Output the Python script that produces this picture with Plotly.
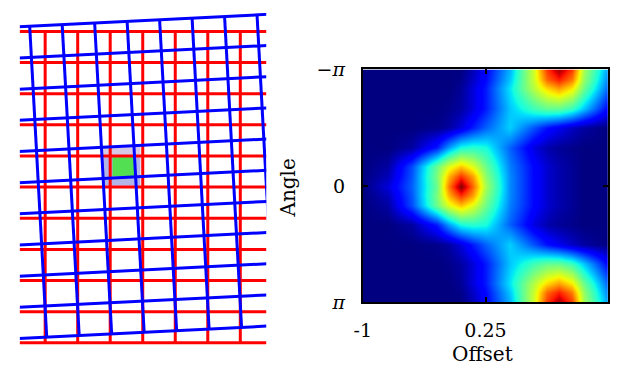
import math
import plotly.graph_objects as go

W, H = 622, 388
PI = math.pi

# ---------------- Left panel data (grid units: 1 = one cell) ----------------
red_vertical_x = [1, 2, 3, 4, 5, 6, 7]
red_horizontal_y = [0, 1, 2, 3, 4, 5, 6, 7, 8, 9, 10]
red_span_x = [0, 8]          # horizontal red lines run past the clip box
red_span_y = [0, 10]

blue_angle_deg = 3.0
blue_origin = [0.524, -0.167]
blue_cols = [0, 1, 2, 3, 4, 5, 6, 7]
blue_rows = [0, 1, 2, 3, 4, 5, 6, 7, 8, 9, 10]
blue_span_s = [-1.0, 8.5]
blue_span_t = [0, 10]

lavender_top = [2.78, 3.93, 3.69, 3.99]     # x0, x1, y0, y1
lavender_low = [2.78, 3.93, 3.99, 4.96]
green_box = [3.07, 3.74, 4.02, 4.65]

# ---------------- Right panel data (heatmap) ----------------
offsets = [-1.0, -0.75, -0.5, -0.25, -0.125, 0.0, 0.125, 0.25, 0.5, 0.75, 0.875, 1.0, 1.125, 1.25, 1.5]
angles = [-PI, -11 * PI / 12, -5 * PI / 6, -2 * PI / 3, -PI / 2, -PI / 3, -PI / 6, -PI / 12, 0.0,
          PI / 12, PI / 6, PI / 3, PI / 2, 2 * PI / 3, 5 * PI / 6, 11 * PI / 12, PI]
z = [
    [0, 0, 0, 0, 0, 0.00, 0.05, 0.12, 0.30, 0.62, 0.85, 0.97, 0.85, 0.55, 0.28],
    [0, 0, 0, 0, 0, 0.01, 0.06, 0.13, 0.32, 0.61, 0.80, 0.88, 0.78, 0.53, 0.25],
    [0, 0, 0, 0, 0, 0.02, 0.08, 0.15, 0.35, 0.58, 0.68, 0.74, 0.66, 0.48, 0.22],
    [0, 0, 0, 0, 0.01, 0.03, 0.08, 0.15, 0.32, 0.43, 0.47, 0.47, 0.42, 0.32, 0.12],
    [0, 0, 0, 0.01, 0.03, 0.08, 0.15, 0.22, 0.33, 0.20, 0.14, 0.10, 0.06, 0.03, 0.0],
    [0, 0, 0.03, 0.15, 0.28, 0.38, 0.40, 0.38, 0.22, 0.08, 0.04, 0.02, 0.01, 0, 0],
    [0, 0.03, 0.20, 0.48, 0.62, 0.70, 0.62, 0.48, 0.25, 0.12, 0.07, 0.04, 0.02, 0, 0],
    [0, 0.05, 0.21, 0.50, 0.72, 0.86, 0.74, 0.52, 0.26, 0.12, 0.07, 0.04, 0.02, 0, 0],
    [0, 0.08, 0.22, 0.48, 0.78, 1.00, 0.80, 0.55, 0.26, 0.12, 0.07, 0.04, 0.02, 0, 0],
    [0, 0.05, 0.21, 0.50, 0.72, 0.86, 0.74, 0.52, 0.26, 0.12, 0.07, 0.04, 0.02, 0, 0],
    [0, 0.03, 0.20, 0.48, 0.62, 0.70, 0.62, 0.48, 0.25, 0.12, 0.07, 0.04, 0.02, 0, 0],
    [0, 0, 0.03, 0.15, 0.28, 0.38, 0.40, 0.38, 0.22, 0.08, 0.04, 0.02, 0.01, 0, 0],
    [0, 0, 0, 0.01, 0.03, 0.08, 0.15, 0.22, 0.33, 0.20, 0.14, 0.10, 0.06, 0.03, 0.0],
    [0, 0, 0, 0, 0.01, 0.03, 0.08, 0.15, 0.32, 0.43, 0.47, 0.47, 0.42, 0.32, 0.12],
    [0, 0, 0, 0, 0, 0.02, 0.08, 0.15, 0.35, 0.58, 0.68, 0.74, 0.66, 0.48, 0.22],
    [0, 0, 0, 0, 0, 0.01, 0.06, 0.13, 0.32, 0.61, 0.80, 0.88, 0.78, 0.53, 0.25],
    [0, 0, 0, 0, 0, 0.00, 0.05, 0.12, 0.30, 0.62, 0.85, 0.97, 0.85, 0.55, 0.28],
]
x_tickvals = [-1, 0.25, 1.5]
x_ticktext = ["-1", "0.25", "1.5"]
y_tickvals = [-PI, 0, PI]
y_ticktext = ["\u2212<i>\u03c0</i>", "0", "<i>\u03c0</i>"]

# matplotlib-like jet
jet = [
    [0.0, "rgb(0,0,128)"], [0.11, "rgb(0,0,255)"], [0.125, "rgb(0,0,255)"],
    [0.34, "rgb(0,219,255)"], [0.35, "rgb(0,230,247)"], [0.375, "rgb(21,255,226)"],
    [0.64, "rgb(239,255,8)"], [0.65, "rgb(247,245,0)"], [0.66, "rgb(255,236,0)"],
    [0.89, "rgb(255,19,0)"], [0.91, "rgb(232,0,0)"], [1.0, "rgb(128,0,0)"],
]

FONT = "DejaVu Serif"


def red_lines():
    xs, ys = [], []
    for y in red_horizontal_y:
        xs += [red_span_x[0], red_span_x[1], None]
        ys += [y, y, None]
    for x in red_vertical_x:
        xs += [x, x, None]
        ys += [red_span_y[0], red_span_y[1], None]
    return xs, ys


def blue_lines():
    a = math.radians(blue_angle_deg)
    ux, uy = math.cos(a), -math.sin(a)
    vx, vy = math.sin(a), math.cos(a)
    ox, oy = blue_origin
    xs, ys = [], []
    for j in blue_rows:
        for s in blue_span_s:
            xs.append(ox + j * vx + s * ux)
            ys.append(oy + j * vy + s * uy)
        xs.append(None)
        ys.append(None)
    for i in blue_cols:
        for t in blue_span_t:
            xs.append(ox + i * ux + t * vx)
            ys.append(oy + i * uy + t * vy)
        xs.append(None)
        ys.append(None)
    return xs, ys


fig = go.Figure()

rx, ry = red_lines()
fig.add_trace(go.Scatter(x=rx, y=ry, mode="lines", line=dict(color="#ff0000", width=3),
                         hoverinfo="skip", showlegend=False, xaxis="x", yaxis="y"))
bx, by = blue_lines()
fig.add_trace(go.Scatter(x=bx, y=by, mode="lines", line=dict(color="#0000ff", width=3),
                         hoverinfo="skip", showlegend=False, xaxis="x", yaxis="y"))

fig.add_trace(go.Heatmap(x=offsets, y=angles, z=z, colorscale=jet, zmin=0, zmax=1,
                         zsmooth="best", showscale=False, xaxis="x2", yaxis="y2"))

shapes = []
for box, col in [(lavender_top, "#d6c9e6"), (lavender_low, "#b3b5e6"), (green_box, "#52e052")]:
    shapes.append(dict(type="rect", xref="x", yref="y", x0=box[0], x1=box[1], y0=box[2], y1=box[3],
                       fillcolor=col, line=dict(width=0), layer="below"))

# pixel geometry
lx0, lx1 = 11, 261
ly0, ly1 = 2, 356
px_per_unit = 33.0
red_x0_px = 3.7
red_y0_px = 21.7

hx0, hx1 = 359, 608
hy0, hy1 = 62, 309

fig.update_layout(
    width=W, height=H, margin=dict(l=0, r=0, t=0, b=0),
    paper_bgcolor="white", plot_bgcolor="white",
    font=dict(family=FONT, color="black", size=19),
    shapes=shapes,
    xaxis=dict(domain=[lx0 / W, lx1 / W],
               range=[(lx0 - red_x0_px) / px_per_unit, (lx1 - red_x0_px) / px_per_unit],
               visible=False, showgrid=False, zeroline=False),
    yaxis=dict(domain=[1 - ly1 / H, 1 - ly0 / H],
               range=[(ly1 - red_y0_px) / px_per_unit, (ly0 - red_y0_px) / px_per_unit],
               visible=False, showgrid=False, zeroline=False),
    xaxis2=dict(domain=[hx0 / W, hx1 / W], range=[-1, 1.5], anchor="y2",
                tickvals=x_tickvals, ticktext=x_ticktext,
                ticks="inside", ticklen=5, tickwidth=1.5, tickcolor="black",
                showline=True, linewidth=2, linecolor="black", mirror="ticks",
                showgrid=False, zeroline=False, ticklabelstandoff=10,
                tickfont=dict(family=FONT, size=19, color="black")),
    yaxis2=dict(domain=[1 - hy1 / H, 1 - hy0 / H], range=[PI, -PI], anchor="x2",
                tickvals=y_tickvals, ticktext=y_ticktext,
                ticks="inside", ticklen=5, tickwidth=1.5, tickcolor="black",
                showline=True, linewidth=2, linecolor="black", mirror="ticks",
                showgrid=False, zeroline=False, ticklabelstandoff=12,
                tickfont=dict(family=FONT, size=19, color="black")),
    annotations=[
        dict(text="Offset", x=480.7 / W, y=1 - 364 / H, xref="paper", yref="paper",
             showarrow=False, xanchor="center", yanchor="middle",
             font=dict(family=FONT, size=20, color="black")),
        dict(text="Angle", x=283.3 / W, y=1 - 188 / H, xref="paper", yref="paper",
             showarrow=False, xanchor="center", yanchor="middle", textangle=-90,
             font=dict(family=FONT, size=20, color="black")),
    ],
)

fig.write_html("out.html", config={"displayModeBar": False},
               post_script="document.body.style.margin='0';document.body.style.overflow='hidden';")
